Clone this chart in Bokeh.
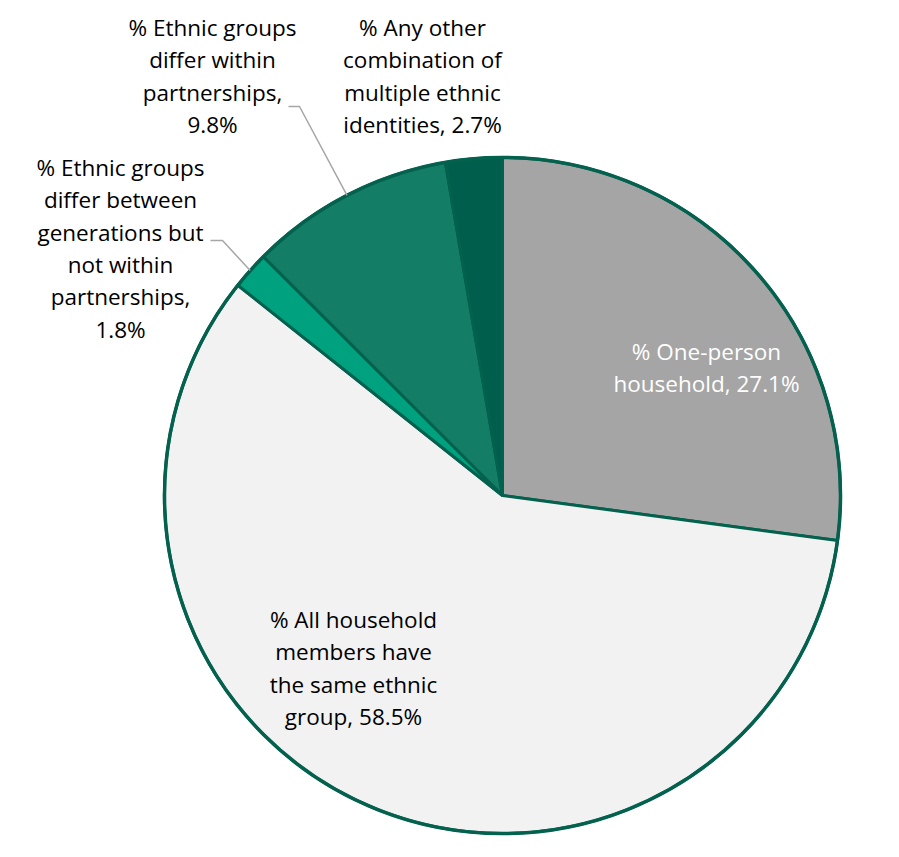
import numpy as np
from bokeh.plotting import figure
from bokeh.models import Range1d, ColumnDataSource
from bokeh.core.properties import value
from bokeh.embed import file_html
from bokeh.resources import INLINE

# slices in drawing order, clockwise from 12 o'clock
labels = [
    "% One-person\nhousehold, 27.1%",
    "% All household\nmembers have\nthe same ethnic\ngroup, 58.5%",
    "% Ethnic groups\ndiffer between\ngenerations but\nnot within\npartnerships,\n1.8%",
    "% Ethnic groups\ndiffer within\npartnerships,\n9.8%",
    "% Any other\ncombination of\nmultiple ethnic\nidentities, 2.7%",
]
shares = [27.1, 58.5, 1.8, 9.8, 2.7]
colors = ["#A5A5A5", "#F2F2F2", "#00A17F", "#137D66", "#005F4C"]
text_colors = ["#FFFFFF", "#000000", "#000000", "#000000", "#000000"]

W, H = 883, 841
FONT = "Open Sans"
FS = 22.5
LINE_H = 32.3

# screenshot pixel -> data: x stays, y flipped
def py(y):
    return H - y

cx, cy, R = 502, py(495), 338

frac = np.array(shares) / np.sum(shares)
c1 = np.cumsum(frac)
c0 = c1 - frac
start = np.pi / 2 - 2 * np.pi * c1
end = np.pi / 2 - 2 * np.pi * c0
mid = (start + end) / 2

p = figure(width=W, height=H, output_backend="svg", toolbar_location=None,
           x_range=Range1d(0, W), y_range=Range1d(0, H),
           min_border=0, outline_line_color=None, background_fill_color="white",
           border_fill_color="white")
p.axis.visible = False
p.grid.visible = False

src = ColumnDataSource(dict(start=start, end=end, color=colors))
p.wedge(x=cx, y=cy, radius=R, start_angle="start", end_angle="end",
        fill_color="color", line_color="#03614E", line_width=3, source=src)
# outer rim
p.circle(x=cx, y=cy, radius=R, fill_color=None, line_color="#03614E", line_width=3.5)

# label placement (screenshot coords of the first line centre)
label_pos = [(706, 351), (353, 619), (120, 167), (212, 27), (422, 27)]
for lab, (lx, ly), tc in zip(labels, label_pos, text_colors):
    lines = lab.split("\n")
    p.text(x=[lx] * len(lines), y=[py(ly + i * LINE_H) for i in range(len(lines))],
           text=lines, text_font=value(FONT), text_font_size=f"{FS}px",
           text_color=tc, text_align="center", text_baseline="middle")

# leader lines for the two small outside slices
leaders = {2: (210, 240, 222), 3: (288, 106, 299)}
for i, (x0, y0, xk) in leaders.items():
    ex = cx + R * np.cos(mid[i])
    ey = cy + R * np.sin(mid[i])
    p.line(x=[x0, xk, ex], y=[py(y0), py(y0), ey], line_color="#A6A6A6", line_width=1.5)

open("out.html", "w").write(file_html(p, INLINE))
